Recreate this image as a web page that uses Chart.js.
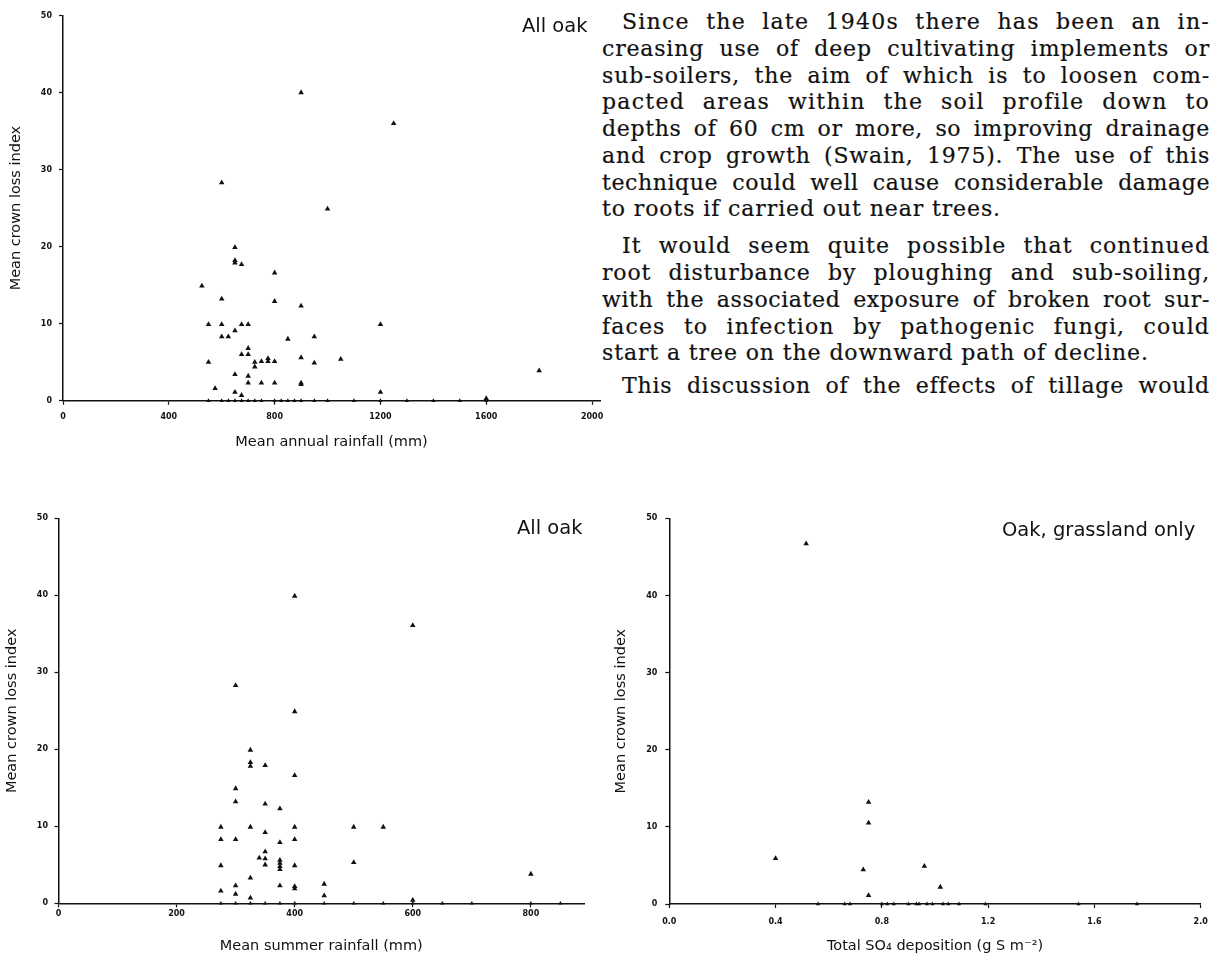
<!DOCTYPE html>
<html>
<head>
<meta charset="utf-8">
<script src="https://cdn.jsdelivr.net/npm/chart.js@4.4.1/dist/chart.umd.min.js"></script>
<style>
html,body{margin:0;padding:0;background:#fff;}
body{width:1219px;height:957px;position:relative;overflow:hidden;}
canvas{position:absolute;}
.cap{position:absolute;font-family:"DejaVu Sans",sans-serif;font-size:19.5px;color:#111;white-space:nowrap;line-height:1;}
.txt{position:absolute;left:602px;top:0;width:608px;height:400px;font-family:"DejaVu Serif",serif;font-size:22px;color:#111;-webkit-text-stroke:0.2px #111;}
.ln{position:absolute;left:0;height:27px;line-height:27px;white-space:nowrap;}
</style>
</head>
<body>
<div class="txt" id="txt">
  <div class="ln" data-ind="20" style="top:8px">Since the late 1940s there has been an in-</div>
  <div class="ln" style="top:35px">creasing use of deep cultivating implements or</div>
  <div class="ln" style="top:62px">sub-soilers, the aim of which is to loosen com-</div>
  <div class="ln" style="top:88px">pacted areas within the soil profile down to</div>
  <div class="ln" style="top:115px">depths of 60 cm or more, so improving drainage</div>
  <div class="ln" style="top:142px">and crop growth (Swain, 1975). The use of this</div>
  <div class="ln" style="top:169px">technique could well cause considerable damage</div>
  <div class="ln" data-end="1" style="top:195px">to roots if carried out near trees.</div>
  <div class="ln" data-ind="20" style="top:232px">It would seem quite possible that continued</div>
  <div class="ln" style="top:259px">root disturbance by ploughing and sub-soiling,</div>
  <div class="ln" style="top:286px">with the associated exposure of broken root sur-</div>
  <div class="ln" style="top:313px">faces to infection by pathogenic fungi, could</div>
  <div class="ln" data-end="1" style="top:339px">start a tree on the downward path of decline.</div>
  <div class="ln" data-ind="20" style="top:372px">This discussion of the effects of tillage would</div>
</div>

<canvas id="c1" width="620" height="460" style="left:0;top:0"></canvas>
<canvas id="c2" width="620" height="477" style="left:0;top:480px"></canvas>
<canvas id="c3" width="614" height="477" style="left:605px;top:480px"></canvas>

<div class="cap" style="left:522px;top:16px">All oak</div>
<div class="cap" style="left:517px;top:518px">All oak</div>
<div class="cap" style="left:1002px;top:520px">Oak, grassland only</div>

<script>
// ---- tick labels ----
const crownTicks = [0, 10, 20, 30, 40, 50];
const annualTicks = [0, 400, 800, 1200, 1600, 2000];
const summerTicks = [0, 200, 400, 600, 800];
const so4Ticks = [0, 0.4, 0.8, 1.2, 1.6, 2.0];

// ---- Chart 1: mean annual rainfall (mm) vs mean crown loss index ----
const annualRain = [
  525, 550, 550, 575, 600, 600, 600, 600, 625, 650, 650, 650, 650, 650, 650,
  675, 675, 675, 675, 700, 700, 700, 700, 700, 725, 725, 750, 750, 775, 775,
  800, 800, 800, 800, 850, 900, 900, 900, 900, 900, 950, 950, 1000, 1050,
  1200, 1200, 1250, 1600, 1800,
  550, 600, 625, 650, 675, 700, 725, 750, 800, 825, 850, 875, 900, 950, 1000,
  1100, 1200, 1300, 1400, 1500, 1600
];
const annualCrown = [
  14.9, 9.9, 5.0, 1.6, 28.3, 13.2, 9.9, 8.3, 8.3, 19.9, 18.2, 17.9, 9.1, 3.4, 1.1,
  17.7, 9.9, 6.0, 0.7, 9.9, 6.8, 6.0, 3.2, 2.3, 5.0, 4.4, 5.1, 2.3, 5.5, 5.1,
  16.6, 12.9, 5.1, 2.3, 8.0, 40.0, 12.3, 5.6, 2.3, 2.1, 8.3, 4.9, 24.9, 5.4,
  9.9, 1.1, 36.0, 0.3, 3.9,
  0, 0, 0, 0, 0, 0, 0, 0, 0, 0, 0, 0, 0, 0, 0,
  0, 0, 0, 0, 0, 0
];

// ---- Chart 2: mean summer rainfall (mm) vs mean crown loss index ----
const summerRain = [
  275, 275, 275, 275, 300, 300, 300, 300, 300, 300,
  325, 325, 325, 325, 325, 325, 340,
  350, 350, 350, 350, 350, 350,
  375, 375, 375, 375, 375, 375, 375,
  400, 400, 400, 400, 400, 400, 400, 400,
  450, 450, 500, 500, 550, 600, 600, 800,
  275, 300, 325, 350, 375, 400, 450, 500, 550, 600, 650, 700, 800, 850
];
const summerCrown = [
  9.9, 8.3, 4.9, 1.6, 28.3, 14.9, 13.2, 8.3, 2.3, 1.2,
  19.9, 18.3, 17.8, 9.9, 3.3, 0.7, 5.9,
  17.9, 12.9, 9.2, 6.7, 5.8, 5.0,
  12.3, 7.9, 5.6, 5.2, 4.8, 4.4, 2.3,
  39.9, 24.9, 16.6, 9.9, 8.3, 4.9, 2.2, 1.9,
  2.5, 1.0, 9.9, 5.3, 9.9, 36.1, 0.4, 3.8,
  0, 0, 0, 0, 0, 0, 0, 0, 0, 0, 0, 0, 0, 0
];

// ---- Chart 3: total SO4 deposition (g S m-2) vs mean crown loss index, grassland only ----
const so4Deposition = [
  0.40, 0.515, 0.73, 0.75, 0.75, 0.75, 0.96, 1.02,
  0.56, 0.66, 0.68, 0.80, 0.82, 0.845, 0.90, 0.93, 0.94, 0.97, 0.99,
  1.03, 1.05, 1.09, 1.19, 1.54, 1.76
];
const so4Crown = [
  5.9, 46.7, 4.45, 13.2, 10.5, 1.1, 4.9, 2.2,
  0, 0, 0, 0, 0, 0, 0, 0, 0, 0, 0,
  0, 0, 0, 0, 0, 0
];

// ---- fit the paragraph lines: partly letter-spacing, partly word-spacing ----
(function fitText() {
  const W = 608;
  const lines = Array.from(document.querySelectorAll('#txt .ln'));
  let lsSum = 0, lsN = 0;
  const ends = [];
  lines.forEach(el => {
    const ind = +(el.dataset.ind || 0);
    el.style.left = ind + 'px';
    if (el.dataset.end) { ends.push(el); return; }
    const target = W - ind;
    const text = el.textContent;
    const chars = text.length;
    const spaces = (text.match(/ /g) || []).length;
    const nat = el.getBoundingClientRect().width;
    const extra = target - nat;
    const ls = Math.max(0, extra * 0.45 / chars);
    el.style.letterSpacing = ls + 'px';
    const nat2 = el.getBoundingClientRect().width;
    const ws = spaces ? (target - nat2) / spaces : 0;
    el.style.wordSpacing = ws + 'px';
    lsSum += ls; lsN++;
  });
  const lsAvg = lsN ? lsSum / lsN : 0;
  ends.forEach(el => { el.style.letterSpacing = lsAvg + 'px'; });
})();

const INK = '#111';
const tickFont = {family: 'DejaVu Sans', size: 8, weight: 'bold'};
const titleFont = {family: 'DejaVu Sans', size: 14.5};

function build(id, xs, ys, cfg) {
  const pts = xs.map((x, i) => ({x: x, y: ys[i]}));
  const chart = new Chart(document.getElementById(id), {
    type: 'scatter',
    data: {datasets: [{
      data: pts,
      pointStyle: 'triangle',
      backgroundColor: INK,
      borderColor: INK,
      borderWidth: 0,
      pointRadius: ctx => (ctx.raw && ctx.raw.y === 0) ? 2.4 : 3.2,
      clip: false
    }]},
    options: {
      responsive: false,
      animation: false,
      devicePixelRatio: 1,
      events: [],
      layout: {padding: {left: 0, top: cfg.top, right: cfg.right, bottom: 0}},
      plugins: {legend: {display: false}, tooltip: {enabled: false}},
      scales: {
        x: {
          type: 'linear', min: 0, max: cfg.xMax,
          afterBuildTicks: s => { s.ticks = cfg.xTicks.map(v => ({value: v})); },
          afterFit: s => { s.height = cfg.xH; },
          border: {display: true, color: INK, width: 1.5},
          grid: {display: true, drawOnChartArea: false, drawTicks: true, tickLength: 4, tickWidth: 1.2, tickColor: INK},
          ticks: {font: tickFont, color: INK, padding: cfg.xPad, maxRotation: 0, autoSkip: false,
                  callback: v => cfg.xFmt(v)},
          title: {display: true, text: cfg.xTitle, font: titleFont, color: INK,
                  padding: {top: 0, bottom: cfg.xTitlePad}}
        },
        y: {
          type: 'linear', min: 0, max: 50,
          afterBuildTicks: s => { s.ticks = crownTicks.map(v => ({value: v})); },
          afterFit: s => { s.width = cfg.yW; },
          border: {display: true, color: INK, width: 1.5},
          grid: {display: true, drawOnChartArea: false, drawTicks: true, tickLength: 4, tickWidth: 1.2, tickColor: INK},
          ticks: {font: tickFont, color: INK, padding: cfg.yPad, autoSkip: false, callback: v => String(v)},
          title: {display: true, text: 'Mean crown loss index', font: titleFont, color: INK,
                  padding: {top: cfg.yTitlePad, bottom: 0}}
        }
      }
    }
  });
  // calibrate plot area to the target box
  for (let k = 0; k < 2; k++) {
    const a = chart.chartArea;
    chart.options.layout.padding.top += cfg.top - a.top;
    chart.options.layout.padding.right += a.right - cfg.targetRight;
    chart.update();
  }
  return chart;
}

build('c1', annualRain, annualCrown, {
  xMax: 2030, xTicks: annualTicks, xFmt: v => String(v), xTitle: 'Mean annual rainfall (mm)',
  top: 15.5, right: 20, targetRight: 600, xH: 59.3, yW: 63,
  xPad: 7.5, yPad: 7, xTitlePad: 9.2, yTitlePad: 8
});
build('c2', summerRain, summerCrown, {
  xMax: 890, xTicks: summerTicks, xFmt: v => String(v), xTitle: 'Mean summer rainfall (mm)',
  top: 38.3, right: 36, targetRight: 584, xH: 53.7, yW: 58.5,
  xPad: 1.5, yPad: 6.5, xTitlePad: 2.2, yTitlePad: 3.2
});
build('c3', so4Deposition, so4Crown, {
  xMax: 2.0, xTicks: so4Ticks, xFmt: v => v.toFixed(1), xTitle: 'Total SO\u2084 deposition (g S m\u207B\u00B2)',
  top: 38.3, right: 18.3, targetRight: 595.7, xH: 53, yW: 64.3,
  xPad: 9, yPad: 8, xTitlePad: 2.2, yTitlePad: 7.2
});
</script>
</body>
</html>
